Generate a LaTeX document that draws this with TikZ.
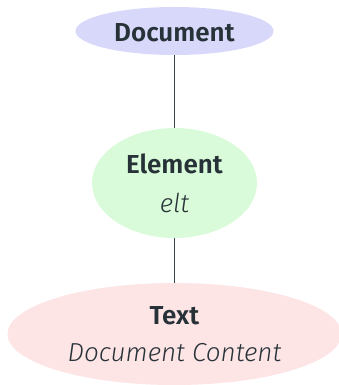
\documentclass[tikz,border=0pt]{standalone}
\usepackage{fontspec}
\setmainfont{Fira Sans}[BoldFont={Fira Sans SemiBold}, ItalicFont={Fira Sans Light Italic}]
\usetikzlibrary{shapes.geometric}
\definecolor{ink}{HTML}{263238}
\definecolor{edge}{HTML}{37474F}
\definecolor{docfill}{HTML}{D8D8FA}
\definecolor{eltfill}{HTML}{D9FBD9}
\definecolor{textfill}{HTML}{FDE4E5}
\tikzset{
  x=1pt, y=1pt,
  blob/.style={ellipse, draw=none, inner sep=0pt, text=ink, align=center,
    font=\fontsize{26}{37}\selectfont},
  link/.style={draw=edge, line width=0.8pt}
}
\begin{document}
\begin{tikzpicture}
\useasboundingbox (0,0) rectangle (339,-385);
% three nested levels of the document tree
\node[blob, fill=docfill, minimum width=198, minimum height=48,
      text height=21.5pt, text depth=0pt] (doc) at (174.5,-31)
  {\textbf{Document}};
\node[blob, fill=eltfill, minimum width=165, minimum height=110] (elt) at (174.5,-183)
  {\textbf{Element}\\[2pt]\textit{elt}};
\node[blob, fill=textfill, minimum width=334, minimum height=102] (txt) at (174.5,-334)
  {\textbf{Text}\\\textit{Document Content}};
% parent-child links
\draw[link] (doc.south) -- (elt.north);
\draw[link] (elt.south) -- (txt.north);
\end{tikzpicture}
\end{document}
